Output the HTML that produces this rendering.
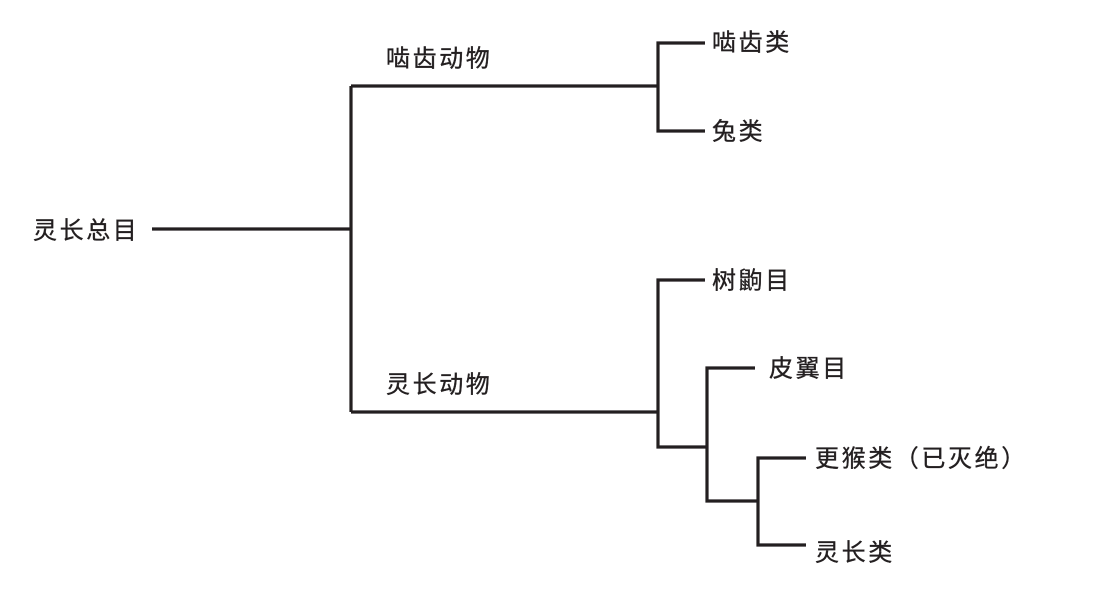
<!DOCTYPE html>
<html><head><meta charset="utf-8"><style>
html,body{margin:0;padding:0;background:#fff;width:1104px;height:608px;overflow:hidden}
svg text{font-family:"Liberation Sans","Noto Sans CJK SC",sans-serif;font-size:24px;fill:#231f20;stroke:#231f20;stroke-width:0.35;letter-spacing:2.6px;dominant-baseline:central}
</style></head><body>
<svg width="1104" height="608" viewBox="0 0 1104 608">
<g stroke="#231f20" stroke-width="3.2" fill="none" stroke-linecap="butt">
<path d="M152 229H351"/>
<path d="M351 86V412"/>
<path d="M351 86H658M351 412H658"/>
<path d="M705 43H658V131H705"/>
<path d="M705 280H658V447H707"/>
<path d="M755 368H707V501H758"/>
<path d="M806 458H758V545H806"/>
</g>
<text x="33" y="231">灵长总目</text>
<text x="386" y="59">啮齿动物</text>
<text x="386" y="385">灵长动物</text>
<text x="712" y="43">啮齿类</text>
<text x="712" y="132">兔类</text>
<text x="712" y="281">树鼩目</text>
<text x="769" y="369">皮翼目</text>
<text x="815" y="459">更猴类（已灭绝）</text>
<text x="815" y="553">灵长类</text>
</svg>
</body></html>
